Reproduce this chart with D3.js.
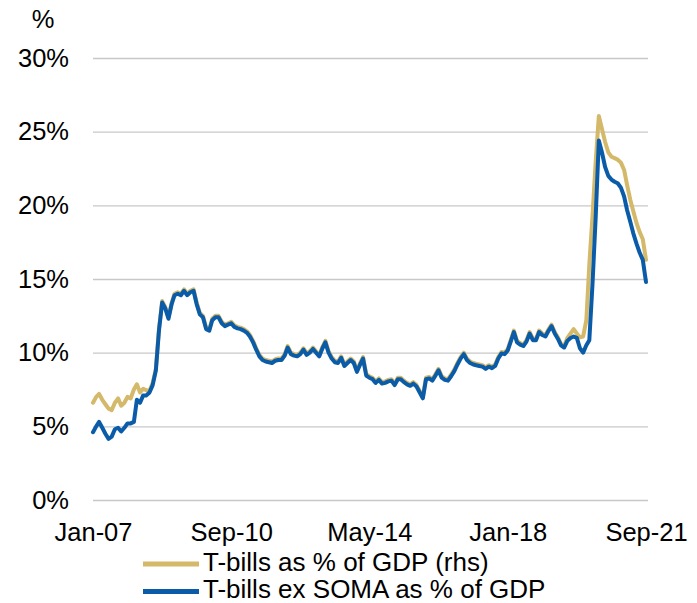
<!DOCTYPE html>
<html>
<head>
<meta charset="utf-8">
<script src="https://cdn.jsdelivr.net/npm/d3@7/dist/d3.min.js"></script>
<style>
  html, body { margin: 0; padding: 0; background: #fff; }
  svg { display: block; font-family: "Liberation Sans", Arial, sans-serif; }
</style>
</head>
<body>
<svg id="chart" width="697" height="603"></svg>
<script>
// Monthly series, Jan-2007 to Sep-2021 (percent of GDP)
const startMonth = new Date(2007, 0, 1);

const tbillsGdp = [
  6.6, 7.0, 7.2, 6.8, 6.5, 6.2, 6.1, 6.6, 6.9, 6.4, 6.6, 7.0,
  6.9, 7.5, 7.85, 7.3, 7.55, 7.45, 7.4, 7.95, 8.9, 11.6, 13.5, 13.1,
  12.4, 13.4, 14.0, 14.1, 14.0, 14.3, 14.0, 14.2, 14.3, 13.4, 12.7, 12.5,
  11.7, 11.6, 12.3, 12.5, 12.5, 12.1, 11.9, 12.0, 12.1, 11.85, 11.75, 11.7,
  11.6, 11.45, 11.2, 10.8, 10.3, 9.85, 9.6, 9.5, 9.45, 9.4, 9.55, 9.6,
  9.6, 9.9, 10.45, 10.0, 9.9, 9.85, 10.0, 10.3, 9.95, 10.1, 10.35, 10.1,
  9.85, 10.4, 10.8, 10.1, 9.7, 9.45, 9.4, 9.75, 9.2, 9.4, 9.6, 9.4,
  8.8, 9.3, 9.7, 8.55, 8.4, 8.3, 8.05, 8.25, 8.0, 8.05, 8.15, 8.2,
  7.9, 8.3, 8.3, 8.1, 7.95, 7.85, 8.0, 7.8, 7.4, 7.0, 8.3, 8.35,
  8.2, 8.55, 8.9, 8.4, 8.25, 8.2, 8.5, 8.85, 9.3, 9.7, 10.0, 9.6,
  9.4, 9.3, 9.25, 9.2, 9.15, 9.0, 9.15, 9.05, 9.2, 9.7, 10.05, 10.0,
  10.25, 10.9, 11.5, 10.8, 10.65, 10.55, 10.85, 11.4, 10.95, 10.95, 11.5, 11.3,
  11.2, 11.6, 11.9, 11.4, 11.05, 10.6, 10.45, 11.0, 11.3, 11.6, 11.3, 11.05,
  11.1, 12.2, 16.0, 19.3, 22.9, 26.06, 25.2, 24.3, 23.6, 23.3, 23.2, 23.1,
  22.9, 22.4, 21.4, 20.4, 19.6, 18.8, 18.2, 17.7, 16.3
];

const tbillsExSomaGdp = [
  4.6, 5.0, 5.3, 4.9, 4.5, 4.15, 4.3, 4.8, 4.9, 4.65, 4.9, 5.2,
  5.2, 5.3, 6.8, 6.6, 7.1, 7.1, 7.3, 7.8, 8.8, 11.5, 13.4, 13.0,
  12.3, 13.3, 13.9, 14.0, 13.9, 14.2, 13.9, 14.1, 14.2, 13.3, 12.6, 12.4,
  11.6, 11.5, 12.2, 12.4, 12.4, 12.0, 11.8, 11.9, 12.0, 11.75, 11.65, 11.6,
  11.5, 11.35, 11.1, 10.7, 10.2, 9.75, 9.5, 9.4, 9.35, 9.3, 9.45, 9.5,
  9.5, 9.8, 10.35, 9.9, 9.8, 9.75, 9.9, 10.2, 9.85, 10.0, 10.25, 10.0,
  9.75, 10.3, 10.7, 10.0, 9.6, 9.35, 9.3, 9.65, 9.1, 9.3, 9.5, 9.3,
  8.7, 9.2, 9.6, 8.45, 8.3, 8.2, 7.95, 8.15, 7.9, 7.95, 8.05, 8.1,
  7.8, 8.2, 8.2, 8.0, 7.85, 7.75, 7.9, 7.7, 7.3, 6.9, 8.2, 8.25,
  8.1, 8.45, 8.8, 8.3, 8.15, 8.1, 8.4, 8.75, 9.2, 9.6, 9.9, 9.5,
  9.3, 9.2, 9.15, 9.1, 9.05, 8.9, 9.05, 8.95, 9.1, 9.6, 9.95, 9.9,
  10.15, 10.8, 11.4, 10.7, 10.55, 10.45, 10.75, 11.3, 10.85, 10.85, 11.4, 11.2,
  11.1, 11.5, 11.8, 11.3, 10.95, 10.5, 10.35, 10.8, 11.0, 11.1, 11.0, 10.3,
  10.0, 10.5, 10.85, 14.7, 19.1, 24.4, 23.6, 22.6, 22.0, 21.75, 21.6, 21.5,
  21.2, 20.6, 19.7, 18.9, 18.1, 17.4, 16.8, 16.3, 14.8
];

const yTicks = [0, 5, 10, 15, 20, 25, 30];
const xTickLabels = ["Jan-07", "Sep-10", "May-14", "Jan-18", "Sep-21"];
const seriesNames = ["T-bills as % of GDP (rhs)", "T-bills ex SOMA as % of GDP"];
const seriesColors = ["#d4b96a", "#0b5ca8"];

const monthDate = i => new Date(2007, i, 1);
const xTickDates = xTickLabels.map(s => d3.timeParse("%b-%y")(s));

const svg = d3.select("#chart");
const axisFont = 25.5;
const legendFont = 26;

const x = d3.scaleTime()
  .domain([startMonth, monthDate(tbillsGdp.length - 1)])
  .range([93, 646]);
const y = d3.scaleLinear().domain([0, 30]).range([500, 58]);

// Horizontal gridlines with the percentage labels
const yAxis = d3.axisLeft(y)
  .tickValues(yTicks)
  .tickFormat(d => d + "%")
  .tickSize(-(648 - 93))
  .tickPadding(24);

const gy = svg.append("g")
  .attr("transform", "translate(93,0)")
  .call(yAxis);
gy.select(".domain").remove();
gy.selectAll(".tick line").attr("stroke", "#c8c8c8").attr("stroke-width", 1.3);
gy.selectAll(".tick text")
  .attr("fill", "#000")
  .style("font-size", axisFont + "px")
  .attr("font-family", "Liberation Sans, Arial, sans-serif");

// Unit label above the axis
svg.append("text")
  .attr("x", 43).attr("y", 28)
  .attr("text-anchor", "middle")
  .style("font-size", axisFont + "px")
  .text("%");

// Date axis
const xAxis = d3.axisBottom(x)
  .tickValues(xTickDates)
  .tickFormat(d3.timeFormat("%b-%y"))
  .tickSize(0)
  .tickPadding(23);
const gx = svg.append("g")
  .attr("transform", "translate(0,500)")
  .call(xAxis);
gx.select(".domain").remove();
gx.selectAll(".tick text")
  .attr("fill", "#000")
  .style("font-size", axisFont + "px")
  .attr("font-family", "Liberation Sans, Arial, sans-serif");

// Lines
const line = d3.line()
  .x((d, i) => x(monthDate(i)))
  .y(d => y(d));

[tbillsGdp, tbillsExSomaGdp].forEach((series, k) => {
  svg.append("path")
    .datum(series)
    .attr("fill", "none")
    .attr("stroke", seriesColors[k])
    .attr("stroke-width", 4)
    .attr("stroke-linejoin", "round")
    .attr("stroke-linecap", "round")
    .attr("d", line);
});

// Legend
const legend = svg.append("g");
seriesNames.forEach((name, k) => {
  const ly = 564 + k * 27.5;
  legend.append("line")
    .attr("x1", 143).attr("x2", 199)
    .attr("y1", ly).attr("y2", ly)
    .attr("stroke", seriesColors[k])
    .attr("stroke-width", 5);
  legend.append("text")
    .attr("x", 203).attr("y", ly + 6.5)
    .style("font-size", legendFont + "px")
    .text(name);
});
</script>
</body>
</html>
